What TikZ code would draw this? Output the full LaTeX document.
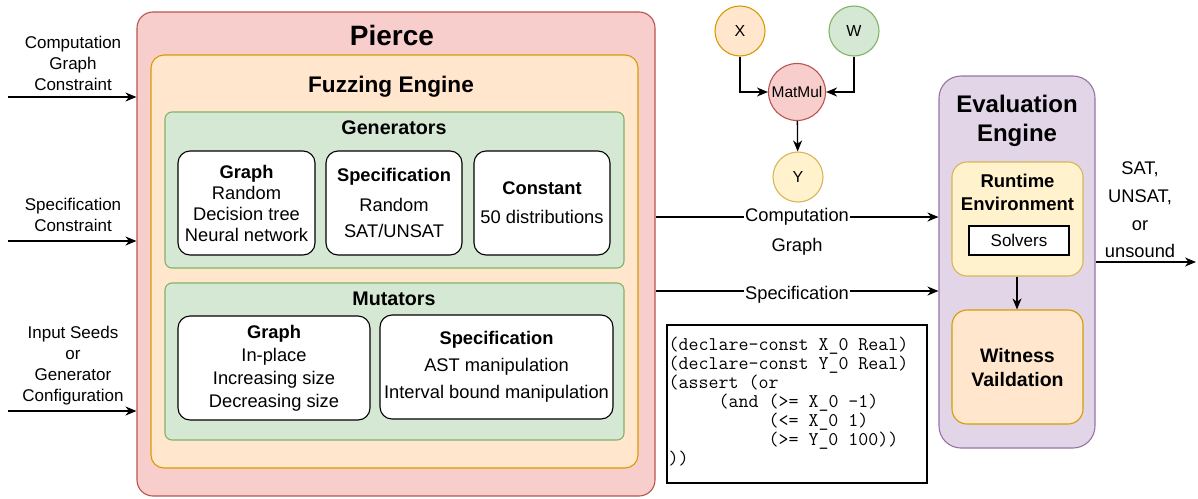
\documentclass[tikz,border=0pt]{standalone}
\usepackage{fontspec}
\setmainfont{Liberation Sans}
\usetikzlibrary{arrows.meta,positioning,calc}

\definecolor{pierceFill}{HTML}{F8CECC}
\definecolor{pierceDraw}{HTML}{B85450}
\definecolor{fuzzFill}{HTML}{FFE6CC}
\definecolor{fuzzDraw}{HTML}{D79B00}
\definecolor{genFill}{HTML}{D5E8D4}
\definecolor{genDraw}{HTML}{82B366}
\definecolor{evalFill}{HTML}{E1D5E7}
\definecolor{evalDraw}{HTML}{9673A6}
\definecolor{rtFill}{HTML}{FFF2CC}
\definecolor{rtDraw}{HTML}{D6B656}

\newcommand{\fs}[2]{\fontsize{#1}{#2}\selectfont}

\tikzset{
  container/.style={draw, line width=1.1pt, rounded corners=#1, inner sep=0pt},
  whitebox/.style={draw=black, fill=white, line width=1.1pt, rounded corners=12pt,
    align=center, inner sep=0pt, font=\fs{18.3}{21}},
  title/.style={anchor=base, font=\bfseries\fs{#1}{#1}, inner sep=0pt},
  lbl/.style={align=center, font=\fs{17}{21}, inner sep=0pt},
  txt/.style={align=center, font=\fs{18.3}{22}, inner sep=0pt},
  arr/.style={line width=1.3pt, -{Stealth[length=11pt,width=9pt,inset=3.5pt]}},
  gnode/.style={circle, line width=1.1pt, inner sep=0pt, minimum size=50pt, font=\fs{16}{16}},
}

\begin{document}
\begin{tikzpicture}[x=1pt,y=-1pt]
\useasboundingbox (0,0) rectangle (1198,498);

% ---------- Pierce and its nested engines ----------
\node[container=16pt, draw=pierceDraw, fill=pierceFill, minimum width=518pt, minimum height=484pt]
  (pierce) at (396,254) {};
\node[title=28] (pierceT) at (392,45) {Pierce};

\node[container=13pt, draw=fuzzDraw, fill=fuzzFill, minimum width=487pt, minimum height=413pt]
  (fuzz) at (394.5,261.5) {};
\node[title=22.6] (fuzzT) at (391,92) {Fuzzing Engine};

\node[container=7pt, draw=genDraw, fill=genFill, minimum width=459pt, minimum height=156pt]
  (gen) at (394.5,190) {};
\node[title=19.7] (genT) at (394,134) {Generators};

\node[whitebox, minimum width=137pt, minimum height=104pt] (gGraph) at (246.5,203)
  {\textbf{Graph}\\Random\\Decision tree\\Neural network};
\node[whitebox, minimum width=136pt, minimum height=104pt] (gSpec) at (394,203)
  {\textbf{Specification}\\[9pt]Random\\[5pt]SAT/UNSAT};
\node[whitebox, minimum width=136pt, minimum height=104pt] (gConst) at (542,203)
  {\textbf{Constant}\\[8pt]50 distributions};

\node[container=7pt, draw=genDraw, fill=genFill, minimum width=459pt, minimum height=157pt]
  (mut) at (394.5,361.5) {};
\node[title=19.7] (mutT) at (394,305) {Mutators};

\node[whitebox, minimum width=192pt, minimum height=104pt, font=\fs{18.3}{22.3}] (mGraph) at (274,368)
  {\textbf{Graph}\\[1pt]In-place\\[1pt]Increasing size\\Decreasing size};
\node[whitebox, minimum width=233pt, minimum height=104pt] (mSpec) at (496.5,367)
  {\textbf{Specification}\\[6pt]AST manipulation\\[6pt]Interval bound manipulation};

% ---------- inputs on the left ----------
\node[lbl] (l1) at (73,63) {Computation\\Graph\\Constraint};
\node[lbl] (l2) at (73,215) {Specification\\Constraint};
\node[lbl] (l3) at (73,366) {Input Seeds\\or\\Generator\\Configuration};
\coordinate (in1) at (8,97);
\coordinate (in2) at (8,241);
\coordinate (in3) at (8,411);
\draw[arr] (in1) -- (in1 -| pierce.west);
\draw[arr] (in2) -- (in2 -| pierce.west);
\draw[arr] (in3) -- (in3 -| pierce.west);

% ---------- evaluation engine ----------
\node[container=22pt, draw=evalDraw, fill=evalFill, minimum width=156pt, minimum height=372pt]
  (eval) at (1017,262) {};
\node[align=center, inner sep=0pt, font=\bfseries\fs{24}{29}] (evalT) at (1017,121) {Evaluation\\Engine};

\node[container=15pt, draw=rtDraw, fill=rtFill, minimum width=131pt, minimum height=114pt]
  (rt) at (1017.5,219) {};
\node[align=center, inner sep=0pt, font=\bfseries\fs{18.5}{23}] (rtT) at (1017.5,192) {Runtime\\Environment};
\node[draw=black, fill=white, line width=1.1pt, minimum width=100pt, minimum height=29pt,
  inner sep=0pt, font=\fs{17}{17}] (solv) at (1019,240.5) {Solvers};

\node[container=15pt, draw=fuzzDraw, fill=fuzzFill, minimum width=131pt, minimum height=114pt]
  (wit) at (1017.5,367) {};
\node[align=center, inner sep=0pt, font=\bfseries\fs{19.5}{24}] (witT) at (1017.5,368) {Witness\\Vaildation};

\draw[arr] (rt.south -| 1017,0) -- (wit.north -| 1017,0);

% ---------- output ----------
\coordinate (out) at (1196,262);
\draw[arr] (out -| eval.east) -- (out);
\node[align=center, inner sep=0pt, font=\fs{18.3}{27.7}] (outT) at (1140,210) {SAT,\\UNSAT,\\or\\unsound};

% ---------- fuzzer to evaluator ----------
\coordinate (cg) at (0,217);
\coordinate (sp) at (0,291);
\draw[arr] (cg -| pierce.east) -- node[pos=0.5, fill=white, txt, inner xsep=1pt, inner ysep=2pt] (cgT) {Computation} (cg -| eval.west);
\node[txt] (cgT2) at (797,247) {Graph};
\draw[arr] (sp -| pierce.east) -- node[pos=0.5, fill=white, txt, inner xsep=1pt, inner ysep=2pt, yshift=-4pt] (spT) {Specification} (sp -| eval.west);

% ---------- example computation graph ----------
\node[gnode, draw=fuzzDraw, fill=fuzzFill] (X) at (740,31) {X};
\node[gnode, draw=genDraw, fill=genFill] (W) at (854,31) {W};
\node[gnode, draw=pierceDraw, fill=pierceFill, minimum size=57pt, font=\fs{15.5}{15.5}] (mm) at (797,92) {MatMul};
\node[gnode, draw=rtDraw, fill=rtFill] (Y) at (798,177) {Y};
\draw[arr] (X) |- (mm);
\draw[arr] (W) |- (mm);
\draw[arr] (mm) -- (Y);

% ---------- example specification ----------
\node[draw=black, line width=1.1pt, minimum width=260pt, minimum height=158pt, inner sep=0pt]
  (code) at (797,404) {};
\node[anchor=west, align=left, inner sep=0pt, font=\ttfamily\fs{19.4}{19}] (codeT) at ($(code.west)+(2,-2)$)
  {(declare-const X\_0 Real)\\
   (declare-const Y\_0 Real)\\
   (assert (or\\
   \hphantom{xxxxx}(and (>= X\_0 -1)\\
   \hphantom{xxxxxxxxxx}(<= X\_0 1)\\
   \hphantom{xxxxxxxxxx}(>= Y\_0 100))\\
   ))};
\end{tikzpicture}
\end{document}
